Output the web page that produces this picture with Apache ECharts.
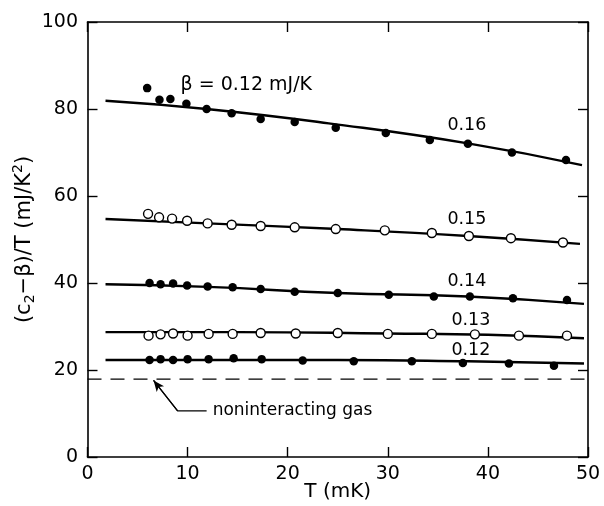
<!DOCTYPE html>
<html>
<head>
<meta charset="utf-8">
<script src="https://cdn.jsdelivr.net/npm/echarts@6/dist/echarts.min.js"></script>
<style>html,body{margin:0;padding:0;background:#fff}#c{width:604px;height:506px}</style>
</head>
<body>
<div id="c"></div>
<script>
// ---- data ----
const xTicks = [0, 10, 20, 30, 40, 50];
const yTicks = [0, 20, 40, 60, 80, 100];

const pts016 = [[5.96,84.8],[7.19,82.1],[8.28,82.3],[9.88,81.2],[11.9,80.0],[14.4,79.0],[17.3,77.7],[20.7,77.0],[24.8,75.7],[29.8,74.5],[34.2,72.9],[38.0,72.0],[42.4,70.0],[47.8,68.3]];
const pts015 = [[6.05,55.9],[7.15,55.1],[8.45,54.8],[9.95,54.3],[12.0,53.7],[14.4,53.4],[17.3,53.1],[20.7,52.8],[24.8,52.4],[29.7,52.1],[34.4,51.5],[38.1,50.8],[42.3,50.3],[47.5,49.3]];
const pts014 = [[6.2,40.0],[7.3,39.7],[8.55,39.9],[9.95,39.4],[12.0,39.2],[14.5,39.0],[17.3,38.6],[20.7,38.0],[25.0,37.7],[30.1,37.3],[34.6,36.9],[38.2,36.9],[42.5,36.5],[47.9,36.1]];
const pts013 = [[6.1,27.9],[7.3,28.2],[8.55,28.4],[10.0,27.9],[12.1,28.3],[14.5,28.3],[17.3,28.5],[20.8,28.4],[25.0,28.5],[30.0,28.3],[34.4,28.3],[38.7,28.2],[43.1,27.9],[47.9,27.9]];
const pts012 = [[6.2,22.3],[7.3,22.5],[8.55,22.3],[10.0,22.5],[12.1,22.5],[14.6,22.7],[17.4,22.5],[21.5,22.2],[26.6,22.0],[32.4,22.0],[37.5,21.6],[42.1,21.5],[46.6,21.0]];

const fit016 = [[1.8,81.9],[11.9,80.0],[24.1,76.7],[38.0,72.1],[49.4,67.1]];
const fit015 = [[1.8,54.7],[12.0,53.7],[25.0,52.4],[38.0,50.8],[49.2,49.0]];
const fit014 = [[1.8,39.7],[12.0,39.1],[25.0,37.7],[38.0,36.9],[49.6,35.2]];
const fit013 = [[1.8,28.7],[15.0,28.7],[30.0,28.4],[40.0,28.1],[49.6,27.3]];
const fit012 = [[1.8,22.3],[25.0,22.3],[38.0,22.0],[49.6,21.5]];

const gasLevel = 17.9;
const gasLine = [[0, gasLevel], [50, gasLevel]];

const curveLabels = ['0.16', '0.15', '0.14', '0.13', '0.12'];
const curveLabelPos = [[37.9,76.3],[37.9,54.6],[37.9,40.3],[38.3,31.3],[38.3,24.6]];
const betaLabel = 'β = 0.12 mJ/K';
const betaLabelPos = [9.3, 85.5];
const gasLabel = 'noninteracting gas';
const gasLabelPos = [12.5, 10.6];
const arrowPath = [[11.9,10.6],[9.0,10.6],[6.6,17.6]];

const FONT2 = 'DejaVu Sans, sans-serif';

const chart = echarts.init(document.getElementById('c'), null, {renderer: 'canvas'});

function fitSeries(d) {
  return {type:'line', data:d, smooth:true, symbol:'none', lineStyle:{color:'#000', width:2.4}, z:2, silent:true};
}
function ptSeries(d, open) {
  return {type:'scatter', data:d, symbol:'circle', symbolSize: open ? 9 : 8.5,
    itemStyle: open ? {color:'#fff', borderColor:'#000', borderWidth:1.4, opacity:1} : {color:'#000', opacity:1}, z:3, silent:true};
}
function textSeries(items, position, size) {
  return {type:'scatter', symbolSize:0, silent:true, z:5, itemStyle:{color:'#000'},
    data: items,
    label:{show:true, position:position, distance:0, formatter:p=>p.name, fontFamily:FONT2, fontSize:size,
      color:'#000', textBorderWidth:0, opacity:1}};
}

const axisCommon = {
  axisLine:{show:true, onZero:false, lineStyle:{color:'#000', width:1.6}},
  axisTick:{show:true, inside:true, length:10, lineStyle:{color:'#000', width:1.4}},
  splitLine:{show:false}
};

const option = {
  animation:false,
  backgroundColor:'#fff',
  grid:{left:87.5, right:16, top:22, bottom:49, containLabel:false, outerBoundsMode:'none'},
  xAxis:[
    Object.assign({type:'value', min:xTicks[0], max:xTicks[xTicks.length-1], interval:10, position:'bottom',
      name:'T (mK)', nameLocation:'middle', nameGap:25, nameMoveOverlap:false,
      nameTextStyle:{fontFamily:FONT2, fontSize:20, color:'#000'},
      axisLabel:{fontFamily:FONT2, fontSize:19, color:'#000', margin:8}}, axisCommon),
    Object.assign({type:'value', min:xTicks[0], max:xTicks[xTicks.length-1], interval:10, position:'top',
      axisLabel:{show:false}}, axisCommon)
  ],
  yAxis:[
    Object.assign({type:'value', min:yTicks[0], max:yTicks[yTicks.length-1], interval:20, position:'left',
      name:'(c{sub|2}−β)/T (mJ/K{sup|2})', nameLocation:'middle', nameGap:50, nameRotate:90, nameMoveOverlap:false,
      nameTextStyle:{fontFamily:FONT2, fontSize:21, color:'#000', lineHeight:26,
        rich:{sub:{fontFamily:FONT2, fontSize:14, color:'#000', verticalAlign:'bottom', lineHeight:26},
              sup:{fontFamily:FONT2, fontSize:14, color:'#000', verticalAlign:'top', lineHeight:26}}},
      axisLabel:{fontFamily:FONT2, fontSize:19, color:'#000', margin:9.5}}, axisCommon),
    Object.assign({type:'value', min:yTicks[0], max:yTicks[yTicks.length-1], interval:20, position:'right',
      axisLabel:{show:false}}, axisCommon)
  ],
  series:[
    fitSeries(fit016), fitSeries(fit015), fitSeries(fit014), fitSeries(fit013), fitSeries(fit012),
    ptSeries(pts016,false), ptSeries(pts015,true), ptSeries(pts014,false), ptSeries(pts013,true), ptSeries(pts012,false),
    {type:'line', data:gasLine, symbol:'none', lineStyle:{color:'#000', width:1.4, type:[14,9]}, silent:true},
    {type:'line', data:arrowPath, symbol:'none', lineStyle:{color:'#000', width:1.2}, silent:true,
      markLine:{silent:true, symbol:['none','arrow'], symbolSize:[7,11], label:{show:false},
        lineStyle:{color:'#000', width:1.2, type:'solid'},
        data:[[{coord:arrowPath[1]},{coord:arrowPath[2]}]]}},
    textSeries(curveLabelPos.map((p,i)=>({value:p, name:curveLabels[i]})), 'inside', 17.5),
    textSeries([{value:betaLabelPos, name:betaLabel}], 'right', 19),
    textSeries([{value:gasLabelPos, name:gasLabel}], 'right', 17)
  ]
};
chart.setOption(option);
</script>
</body>
</html>
